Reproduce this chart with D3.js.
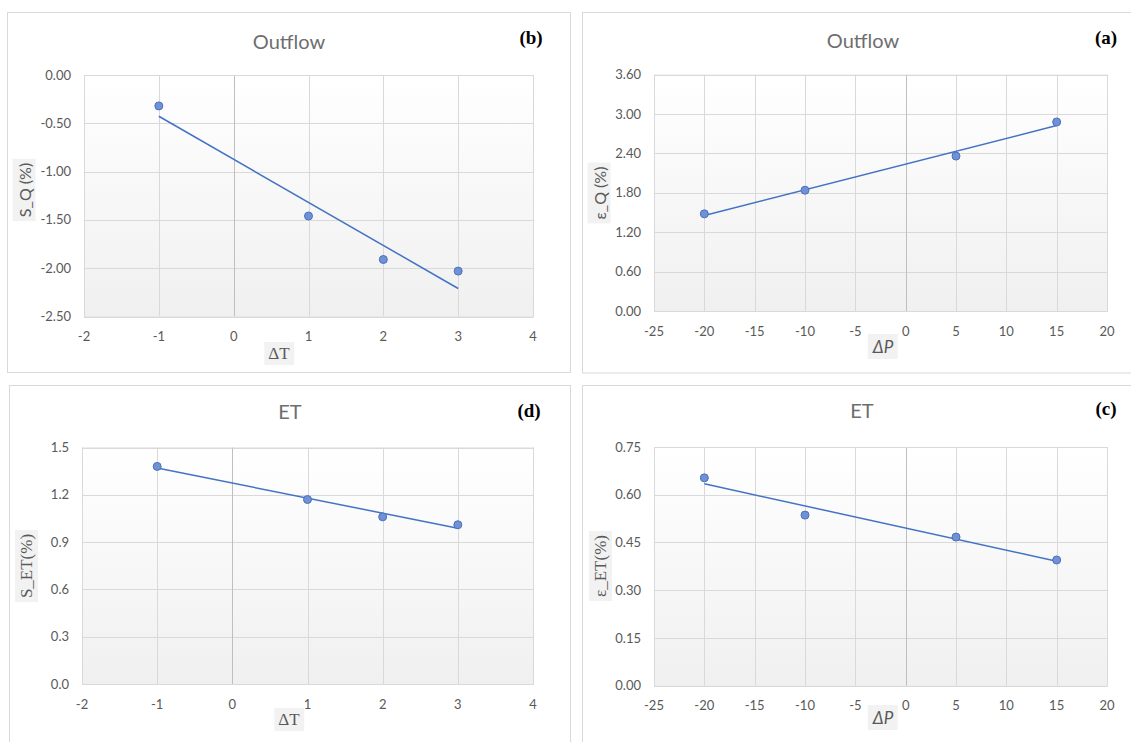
<!DOCTYPE html>
<html>
<head>
    <meta charset="utf-8">
    <title>Outflow / ET sensitivity</title>
    <script src="https://d3js.org/d3.v7.min.js"></script>
    <style>
        body { margin: 0; background: #fff; }
        .tick-label { font-family: Lato, "Open Sans", sans-serif; font-size: 13px; fill: #595959; }
        .chart-title { font-family: Lato, "Open Sans", sans-serif; font-size: 20px; fill: #6e6e6e; }
        .panel-tag { font-family: "Liberation Serif", serif; font-size: 19px; font-weight: bold; fill: #000; }
    </style>
</head>
<body>
    <div id="chart"></div>

    <script>
        // data
        const dT = [-1, 1, 2, 3];
        const dP = [-20, -10, 5, 15];
        const sQ = [-0.32, -1.46, -1.91, -2.03];
        const eQ = [1.48, 1.84, 2.36, 2.88];
        const sET = [1.38, 1.17, 1.06, 1.01];
        const eET = [0.653, 0.536, 0.467, 0.395];

        // tick labels
        const ticksT = [-2, -1, 0, 1, 2, 3, 4];
        const ticksP = [-25, -20, -15, -10, -5, 0, 5, 10, 15, 20];
        const ticksSQ = [0, -0.5, -1, -1.5, -2, -2.5];
        const ticksEQ = [0, 0.6, 1.2, 1.8, 2.4, 3.0, 3.6];
        const ticksSET = [0, 0.3, 0.6, 0.9, 1.2, 1.5];
        const ticksEET = [0, 0.15, 0.3, 0.45, 0.6, 0.75];

        const svg = d3.select("#chart")
            .append("svg")
            .attr("width", 1131)
            .attr("height", 742);

        // plot area gradient (white -> light grey)
        const grad = svg.append("defs").append("linearGradient")
            .attr("id", "plotbg")
            .attr("x1", 0).attr("y1", 0).attr("x2", 0).attr("y2", 1);
        grad.append("stop").attr("offset", "0%").attr("stop-color", "#ffffff");
        grad.append("stop").attr("offset", "100%").attr("stop-color", "#f0f0f0");

        // outer chart frames
        const frames = [
            [7.5, 12.5, 563, 360],
            [582.5, 12.5, 560, 360.5],
            [9.5, 385.5, 561, 370],
            [582.5, 385.5, 560, 370]
        ];
        frames.forEach(f => {
            svg.append("rect")
                .attr("x", f[0]).attr("y", f[1])
                .attr("width", f[2]).attr("height", f[3])
                .attr("fill", "#fff")
                .attr("stroke", "#d9d9d9")
                .attr("stroke-width", 1);
        });

        function linearFit(xs, ys) {
            const mx = d3.mean(xs), my = d3.mean(ys);
            let sxy = 0, sxx = 0;
            xs.forEach((x, i) => { sxy += (x - mx) * (ys[i] - my); sxx += (x - mx) * (x - mx); });
            const b = sxy / sxx;
            return x => my + b * (x - mx);
        }

        function panel(cfg) {
            const g = svg.append("g");
            const x = d3.scaleLinear().domain(d3.extent(cfg.xTicks)).range([cfg.x0, cfg.x1]);
            const y = d3.scaleLinear().domain(d3.extent(cfg.yTicks)).range([cfg.y1, cfg.y0]);

            g.append("rect")
                .attr("x", cfg.x0).attr("y", cfg.y0)
                .attr("width", cfg.x1 - cfg.x0).attr("height", cfg.y1 - cfg.y0)
                .attr("fill", "url(#plotbg)");

            // grid
            g.append("g")
                .selectAll("line.h")
                .data(cfg.yTicks)
                .enter().append("line")
                .attr("x1", cfg.x0).attr("x2", cfg.x1)
                .attr("y1", d => Math.round(y(d)) + 0.5).attr("y2", d => Math.round(y(d)) + 0.5)
                .attr("stroke", "#d9d9d9");
            g.append("g")
                .selectAll("line.v")
                .data(cfg.xTicks)
                .enter().append("line")
                .attr("y1", cfg.y0).attr("y2", cfg.y1)
                .attr("x1", d => Math.round(x(d)) + 0.5).attr("x2", d => Math.round(x(d)) + 0.5)
                .attr("stroke", d => d === 0 ? "#bfbfbf" : "#d9d9d9");

            g.append("rect")
                .attr("x", cfg.x0 + 0.5).attr("y", cfg.y0 + 0.5)
                .attr("width", cfg.x1 - cfg.x0).attr("height", cfg.y1 - cfg.y0)
                .attr("fill", "none")
                .attr("stroke", "#d9d9d9");

            // tick labels
            g.selectAll("text.yt")
                .data(cfg.yTicks)
                .enter().append("text")
                .attr("class", "tick-label")
                .attr("x", cfg.x0 - 13)
                .attr("y", d => y(d))
                .attr("dy", "0.35em")
                .attr("text-anchor", "end")
                .text(d => d3.format(cfg.yFmt)(d).replace("−", "-"));
            g.selectAll("text.xt")
                .data(cfg.xTicks)
                .enter().append("text")
                .attr("class", "tick-label")
                .attr("x", d => x(d))
                .attr("y", cfg.y1 + 20)
                .attr("dy", "0.35em")
                .attr("text-anchor", "middle")
                .text(d => String(d));

            // trendline
            const fit = linearFit(cfg.xs, cfg.ys);
            const ext = d3.extent(cfg.xs);
            g.append("path")
                .datum(ext)
                .attr("d", d3.line().x(d => x(d)).y(d => y(fit(d))))
                .attr("stroke", "#4472c4")
                .attr("stroke-width", 1.5)
                .attr("fill", "none");

            // points
            g.selectAll("circle")
                .data(cfg.xs.map((v, i) => [v, cfg.ys[i]]))
                .enter().append("circle")
                .attr("cx", d => x(d[0]))
                .attr("cy", d => y(d[1]))
                .attr("r", 4)
                .attr("fill", "#7092d4")
                .attr("stroke", "#4a70c0")
                .attr("stroke-width", 1);

            // titles
            g.append("text")
                .attr("class", "chart-title")
                .attr("x", cfg.title[1]).attr("y", cfg.title[2])
                .attr("dy", "0.35em")
                .attr("text-anchor", "middle")
                .text(cfg.title[0]);
            g.append("text")
                .attr("class", "panel-tag")
                .attr("x", cfg.tag[1]).attr("y", cfg.tag[2])
                .attr("dy", "0.35em")
                .attr("text-anchor", "middle")
                .text(cfg.tag[0]);

            // axis titles with grey box
            function boxedLabel(lab, rotate) {
                const t = g.append("text")
                    .attr("text-anchor", "middle")
                    .attr("dy", "0.35em")
                    .attr("font-family", lab.font)
                    .attr("font-size", lab.size + "px")
                    .attr("fill", "#595959")
                    .attr("transform", `translate(${lab.x},${lab.y})` + (rotate ? " rotate(-90)" : ""));
                lab.parts.forEach(p => {
                    t.append("tspan").attr("font-style", p[1] ? "italic" : "normal").text(p[0]);
                });
                const bb = t.node().getBBox();
                g.insert("rect", () => t.node())
                    .attr("x", bb.x - 4).attr("y", bb.y - 2)
                    .attr("width", bb.width + 8).attr("height", bb.height + 4)
                    .attr("fill", "#f2f2f2")
                    .attr("transform", `translate(${lab.x},${lab.y})` + (rotate ? " rotate(-90)" : ""));
            }
            boxedLabel(cfg.xLab, false);
            boxedLabel(cfg.yLab, true);
        }

        const serif = "'Liberation Serif', serif";
        const sans = "Lato, 'Open Sans', sans-serif";

        panel({
            x0: 84, x1: 533, y0: 75, y1: 316.5,
            xTicks: ticksT, yTicks: ticksSQ, yFmt: ".2f",
            xs: dT, ys: sQ,
            title: ["Outflow", 289, 42], tag: ["(b)", 531, 37],
            xLab: { parts: [["ΔT", false]], x: 279, y: 353, font: serif, size: 17 },
            yLab: { parts: [["S_Q (%)", false]], x: 25, y: 190, font: sans, size: 16 }
        });
        panel({
            x0: 654, x1: 1107, y0: 74.7, y1: 311,
            xTicks: ticksP, yTicks: ticksEQ, yFmt: ".2f",
            xs: dP, ys: eQ,
            title: ["Outflow", 863, 41], tag: ["(a)", 1106, 37],
            xLab: { parts: [["Δ", true], ["P", true]], x: 883, y: 347, font: sans, size: 17 },
            yLab: { parts: [["ε_Q (%)", false]], x: 600, y: 193, font: sans, size: 16 }
        });
        panel({
            x0: 82, x1: 533, y0: 447.5, y1: 684,
            xTicks: ticksT, yTicks: ticksSET, yFmt: ".1f",
            xs: dT, ys: sET,
            title: ["ET", 290, 412], tag: ["(d)", 529, 410],
            xLab: { parts: [["ΔT", false]], x: 289, y: 719, font: serif, size: 17 },
            yLab: { parts: [["S_ET(%)", false]], x: 26, y: 566, font: serif, size: 17 }
        });
        panel({
            x0: 654, x1: 1107, y0: 447, y1: 685.7,
            xTicks: ticksP, yTicks: ticksEET, yFmt: ".2f",
            xs: dP, ys: eET,
            title: ["ET", 862, 411], tag: ["(c)", 1106, 408],
            xLab: { parts: [["Δ", true], ["P", true]], x: 883, y: 718, font: sans, size: 17 },
            yLab: { parts: [["ε_ET(%)", false]], x: 600, y: 566, font: serif, size: 17 }
        });
    </script>
</body>
</html>
